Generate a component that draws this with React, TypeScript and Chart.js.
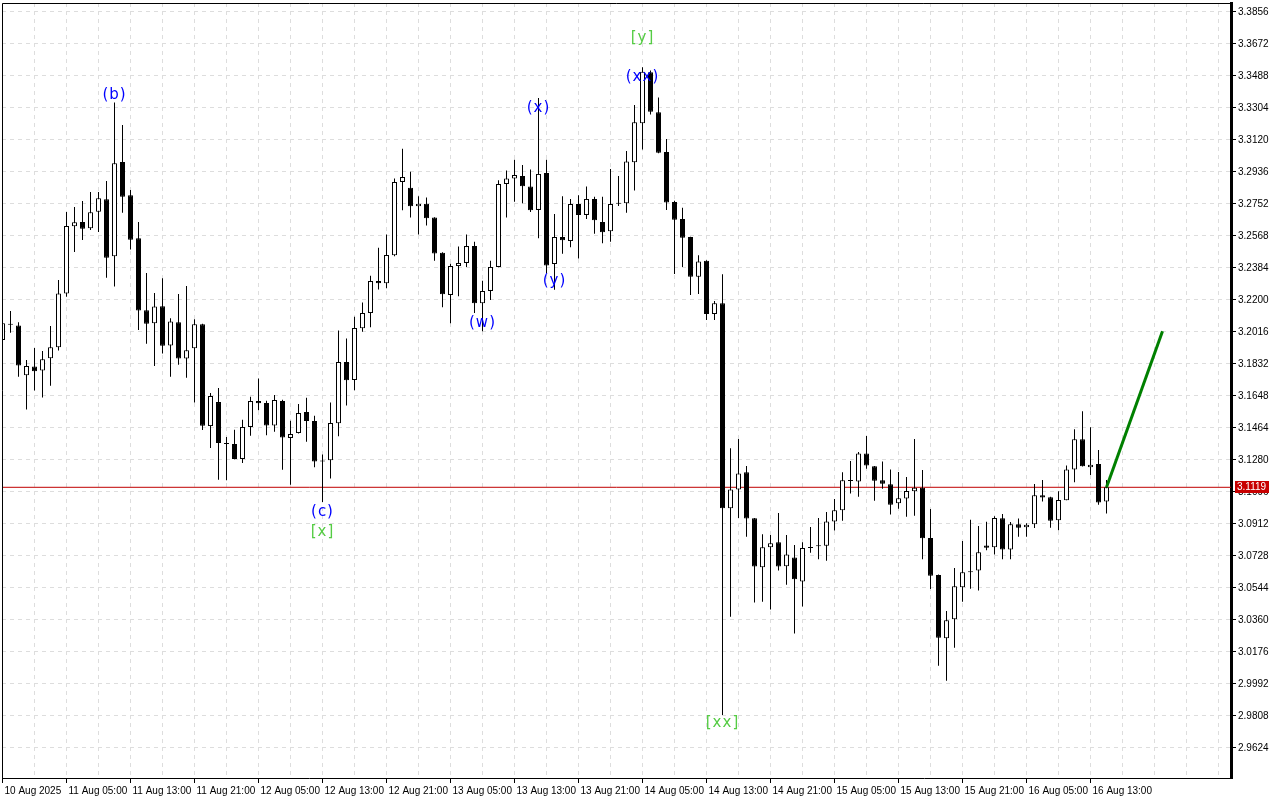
import React, { useEffect, useRef } from "react";
import { Chart, registerables } from "chart.js";

Chart.register(...registerables);

// Hourly candles, 10 Aug 21:00 .. 16 Aug 15:00
const opens: number[] = [
  3.1966, 3.2058, 3.2050, 3.1763, 3.1813, 3.1791, 3.1861, 3.1924, 3.2234, 3.2620,
  3.2645, 3.2608, 3.2704, 3.2775, 3.2447, 3.2990, 3.2798, 3.2551, 3.2137, 3.2062,
  3.2160, 3.1935, 3.2068, 3.1859, 3.1918, 3.2056, 3.1471, 3.1609, 3.1372, 3.1368,
  3.1282, 3.1466, 3.1615, 3.1604, 3.1475, 3.1615, 3.1403, 3.1431, 3.1552, 3.1500,
  3.1270, 3.1274, 3.1487, 3.1839, 3.1736, 3.2033, 3.2121, 3.2305, 3.2292, 3.2453,
  3.2875, 3.2842, 3.2735, 3.2750, 3.2670, 3.2468, 3.2225, 3.2391, 3.2409, 3.2506,
  3.2177, 3.2248, 3.2386, 3.2863, 3.2894, 3.2909, 3.2848, 3.2714, 3.2926, 3.2403,
  3.2558, 3.2535, 3.2748, 3.2685, 3.2777, 3.2645, 3.2591, 3.2752, 3.2752, 3.2988,
  3.3212, 3.3505, 3.3275, 3.3047, 3.2760, 3.2662, 3.2558, 3.2330, 3.2422, 3.2115,
  3.2177, 3.0998, 3.1107, 3.1205, 3.0941, 3.0659, 3.0774, 3.0803, 3.0665, 3.0716,
  3.0578, 3.0772, 3.0782, 3.0783, 3.0923, 3.0987, 3.1157, 3.1153, 3.1314, 3.1240,
  3.1159, 3.1136, 3.1027, 3.1054, 3.1096, 3.1117, 3.0828, 3.0615, 3.0251, 3.0360,
  3.0544, 3.0634, 3.0640, 3.0785, 3.0774, 3.0941, 3.0762, 3.0906, 3.0889, 3.0906,
  3.1073, 3.1062, 3.0929, 3.1044, 3.1222, 3.1395, 3.1234, 3.1253, 3.1038,
];

const highs: number[] = [
  3.2085, 3.2133, 3.2068, 3.1851, 3.1920, 3.1903, 3.2046, 3.2311, 3.2702, 3.2731,
  3.2765, 3.2817, 3.2817, 3.2880, 3.3331, 3.3202, 3.2829, 3.2645, 3.2351, 3.2236,
  3.2321, 3.2091, 3.2230, 3.2277, 3.2085, 3.2060, 3.1661, 3.1690, 3.1408, 3.1450,
  3.1508, 3.1640, 3.1744, 3.1617, 3.1650, 3.1623, 3.1502, 3.1598, 3.1634, 3.1531,
  3.1307, 3.1606, 3.2020, 3.1974, 3.2100, 3.2181, 3.2336, 3.2497, 3.2572, 3.2894,
  3.3066, 3.2934, 3.2792, 3.2786, 3.2672, 3.2470, 3.2405, 3.2503, 3.2572, 3.2531,
  3.2307, 3.2422, 3.2884, 3.2940, 3.3003, 3.2972, 3.2946, 3.3358, 3.3003, 3.2691,
  3.2792, 3.2777, 3.2798, 3.2848, 3.2790, 3.2790, 3.2949, 3.2909, 3.3053, 3.3317,
  3.3534, 3.3515, 3.3361, 3.3122, 3.2766, 3.2727, 3.2560, 3.2453, 3.2424, 3.2190,
  3.2344, 3.1343, 3.1397, 3.1241, 3.0943, 3.0849, 3.0845, 3.0971, 3.0845, 3.0787,
  3.0803, 3.0891, 3.0942, 3.0977, 3.1052, 3.1205, 3.1270, 3.1322, 3.1414, 3.1242,
  3.1268, 3.1222, 3.1207, 3.1178, 3.1397, 3.1219, 3.0994, 3.0617, 3.0408, 3.0655,
  3.0810, 3.0933, 3.0897, 3.0921, 3.0952, 3.0966, 3.0920, 3.0939, 3.0912, 3.1138,
  3.1161, 3.1064, 3.1096, 3.1245, 3.1453, 3.1556, 3.1464, 3.1334, 3.1161,
];

const lows: number[] = [
  3.1940, 3.2008, 3.1755, 3.1567, 3.1675, 3.1636, 3.1703, 3.1905, 3.2215, 3.2472,
  3.2541, 3.2599, 3.2587, 3.2324, 3.2273, 3.2698, 3.2487, 3.2023, 3.1945, 3.1816,
  3.1889, 3.1755, 3.1824, 3.1749, 3.1606, 3.1448, 3.1345, 3.1163, 3.1159, 3.1280,
  3.1259, 3.1416, 3.1562, 3.1418, 3.1439, 3.1220, 3.1134, 3.1429, 3.1381, 3.1234,
  3.1035, 3.1169, 3.1412, 3.1590, 3.1677, 3.2014, 3.2039, 3.2257, 3.2263, 3.2447,
  3.2712, 3.2671, 3.2572, 3.2625, 3.2422, 3.2154, 3.2062, 3.2217, 3.2386, 3.2121,
  3.2016, 3.2196, 3.2384, 3.2671, 3.2761, 3.2752, 3.2702, 3.2551, 3.2351, 3.2255,
  3.2462, 3.2499, 3.2434, 3.2662, 3.2577, 3.2522, 3.2531, 3.2737, 3.2698, 3.2825,
  3.3062, 3.3262, 3.3040, 3.2713, 3.2345, 3.2386, 3.2225, 3.2230, 3.2081, 3.2081,
  2.9810, 3.0375, 3.0942, 3.0835, 3.0456, 3.0461, 3.0417, 3.0640, 3.0559, 3.0279,
  3.0433, 3.0743, 3.0705, 3.0697, 3.0870, 3.0927, 3.1083, 3.1065, 3.1226, 3.1042,
  3.1111, 3.0962, 3.0996, 3.0950, 3.0956, 3.0705, 3.0534, 3.0093, 3.0007, 3.0197,
  3.0461, 3.0536, 3.0525, 3.0757, 3.0732, 3.0705, 3.0705, 3.0835, 3.0835, 3.0885,
  3.1037, 3.0887, 3.0872, 3.1044, 3.1148, 3.1238, 3.1190, 3.1019, 3.0968,
];

const closes: number[] = [
  3.2062, 3.2054, 3.1820, 3.1816, 3.1786, 3.1855, 3.1924, 3.2234, 3.2622, 3.2643,
  3.2606, 3.2700, 3.2781, 3.2439, 3.2982, 3.2790, 3.2543, 3.2135, 3.2060, 3.2158,
  3.1933, 3.2073, 3.1859, 3.1907, 3.2056, 3.1473, 3.1644, 3.1374, 3.1368, 3.1282,
  3.1466, 3.1615, 3.1602, 3.1475, 3.1621, 3.1406, 3.1425, 3.1546, 3.1500, 3.1268,
  3.1267, 3.1489, 3.1839, 3.1734, 3.2035, 3.2121, 3.2305, 3.2292, 3.2455, 3.2875,
  3.2903, 3.2735, 3.2750, 3.2666, 3.2464, 3.2229, 3.2391, 3.2409, 3.2506, 3.2177,
  3.2248, 3.2386, 3.2863, 3.2894, 3.2915, 3.2850, 3.2712, 3.2921, 3.2395, 3.2558,
  3.2539, 3.2748, 3.2685, 3.2777, 3.2654, 3.2585, 3.2748, 3.2749, 3.2993, 3.3218,
  3.3509, 3.3279, 3.3043, 3.2756, 3.2658, 3.2554, 3.2330, 3.2418, 3.2115, 3.2177,
  3.0998, 3.1107, 3.1199, 3.0939, 3.0663, 3.0774, 3.0797, 3.0663, 3.0733, 3.0590,
  3.0770, 3.0770, 3.0780, 3.0923, 3.0987, 3.1159, 3.1155, 3.1314, 3.1244, 3.1157,
  3.1140, 3.1019, 3.1056, 3.1098, 3.1117, 3.0826, 3.0611, 3.0254, 3.0354, 3.0550,
  3.0630, 3.0630, 3.0745, 3.0772, 3.0943, 3.0762, 3.0906, 3.0887, 3.0904, 3.1073,
  3.1060, 3.0927, 3.1046, 3.1222, 3.1395, 3.1240, 3.1249, 3.1031, 3.1119,
];

// one label every 8 candles (candle index = 8 * position)
const xTickLabels: string[] = [
  "10 Aug 2025", "11 Aug 05:00", "11 Aug 13:00", "11 Aug 21:00", "12 Aug 05:00",
  "12 Aug 13:00", "12 Aug 21:00", "13 Aug 05:00", "13 Aug 13:00", "13 Aug 21:00",
  "14 Aug 05:00", "14 Aug 13:00", "14 Aug 21:00", "15 Aug 05:00", "15 Aug 13:00",
  "15 Aug 21:00", "16 Aug 05:00", "16 Aug 13:00",
];

const yTickLabels: string[] = [
  "2.9624", "2.9808", "2.9992", "3.0176", "3.0360", "3.0544", "3.0728", "3.0912",
  "3.1096", "3.1280", "3.1464", "3.1648", "3.1832", "3.2016", "3.2200", "3.2384",
  "3.2568", "3.2752", "3.2936", "3.3120", "3.3304", "3.3488", "3.3672", "3.3856",
];

// Elliott-wave annotations
const waveTexts: string[] = ["(b)", "(c)", "[x]", "(w)", "(x)", "(y)", "(xx)", "[y]", "[xx]"];
const waveIndex: number[] = [14, 40, 40, 60, 67, 69, 80, 80, 90];
const wavePrice: number[] = [3.3376, 3.0977, 3.0862, 3.2064, 3.3301, 3.2306, 3.3479, 3.3704, 2.9763];
const waveKind: string[] = ["minor", "minor", "major", "minor", "minor", "minor", "minor", "major", "major"];

const lastPrice = 3.1119;
const projectionIndex: number[] = [138, 145];
const projectionPrice: number[] = [3.1119, 3.2016];

const X_MIN = -0.0625;
const X_MAX = 153.5625;
const Y_MIN = 2.94475;
const Y_MAX = 3.39037;

const AXIS_FONT = { family: "Liberation Sans", size: 10 };

const decorPlugin = {
  id: "decor",
  afterDatasetsDraw(chart: any) {
    const { ctx } = chart;
    const xs = chart.scales.x;
    const ys = chart.scales.y;
    ctx.save();
    ctx.font = '15px "DejaVu Sans"';
    try { (ctx as any).letterSpacing = "1px"; } catch (e) {}
    ctx.textAlign = "center";
    ctx.textBaseline = "middle";
    waveTexts.forEach((t, i) => {
      ctx.fillStyle = waveKind[i] === "major" ? "#55cc44" : "#0000ff";
      ctx.fillText(t, xs.getPixelForValue(waveIndex[i]), ys.getPixelForValue(wavePrice[i]));
    });
    ctx.restore();
  },
  afterDraw(chart: any) {
    const { ctx, chartArea: a } = chart;
    ctx.save();
    ctx.strokeStyle = "#000";
    ctx.lineWidth = 1;
    ctx.beginPath();
    ctx.moveTo(a.left + 0.5, a.bottom);
    ctx.lineTo(a.left + 0.5, a.top + 0.5);
    ctx.lineTo(a.right, a.top + 0.5);
    ctx.stroke();
    const y = Math.round(chart.scales.y.getPixelForValue(lastPrice));
    ctx.fillStyle = "#c80000";
    ctx.fillRect(a.right + 4, y - 6, 34, 12);
    ctx.fillStyle = "#ffffff";
    ctx.font = '10px "Liberation Sans"';
    ctx.textAlign = "left";
    ctx.textBaseline = "middle";
    ctx.fillText(lastPrice.toFixed(4), a.right + 6, y + 0.5);
    ctx.restore();
  },
};

export default function App() {
  const ref = useRef<HTMLCanvasElement>(null);

  useEffect(() => {
    document.body.style.margin = "0";
    const canvas = ref.current;
    if (!canvas) return;

    const bodies = opens.map((o, i) => ({ x: i, y: [o, closes[i]] }));
    const wicks = lows.map((l, i) => ({ x: i, y: [l, highs[i]] }));
    const bodyColors = opens.map((o, i) => (closes[i] >= o ? "#ffffff" : "#000000"));
    const projection = projectionIndex.map((x, i) => ({ x, y: projectionPrice[i] }));
    const priceLine = [
      { x: X_MIN, y: lastPrice },
      { x: X_MAX, y: lastPrice },
    ];
    const yTickValues = yTickLabels.map((s) => parseFloat(s));

    const chart = new Chart(canvas, {
      type: "bar",
      data: {
        datasets: [
          {
            type: "line",
            data: projection as any,
            borderColor: "#008000",
            borderWidth: 3,
            pointRadius: 0,
            tension: 0,
            order: 0,
          },
          {
            type: "bar",
            data: bodies as any,
            backgroundColor: bodyColors,
            borderColor: "#000000",
            borderWidth: 1,
            borderSkipped: false,
            grouped: false,
            categoryPercentage: 1,
            barPercentage: 0.625,
            minBarLength: 1,
            order: 1,
          } as any,
          {
            type: "bar",
            data: wicks as any,
            backgroundColor: "#000000",
            borderWidth: 0,
            grouped: false,
            categoryPercentage: 1,
            barPercentage: 0.125,
            order: 2,
          } as any,
          {
            type: "line",
            data: priceLine as any,
            borderColor: "#c00000",
            borderWidth: 1,
            pointRadius: 0,
            order: 3,
          },
        ],
      },
      options: {
        responsive: false,
        devicePixelRatio: 1,
        animation: false,
        events: [],
        layout: { padding: { top: 3, left: 2, right: 0, bottom: 0 } },
        plugins: { legend: { display: false }, tooltip: { enabled: false } },
        scales: {
          x: {
            type: "linear",
            min: X_MIN,
            max: X_MAX,
            offset: false,
            afterBuildTicks: (scale: any) => {
              const t = [];
              for (let i = 0; i <= 152; i += 4) t.push({ value: i });
              scale.ticks = t;
            },
            afterFit: (scale: any) => {
              scale.height = 22;
              scale.paddingLeft = 0;
              scale.paddingRight = 0;
              scale.paddingTop = 0;
              scale.paddingBottom = 0;
            },
            grid: {
              offset: false,
              color: "#dddddd",
              tickLength: 5,
              tickBorderDash: [],
              tickColor: (c: any) =>
                c.tick && c.tick.value % 8 === 0 && c.tick.value / 8 < xTickLabels.length
                  ? "#000000"
                  : "rgba(0,0,0,0)",
            } as any,
            border: { display: true, color: "#000000", width: 1, dash: [4, 4] },
            ticks: {
              autoSkip: false,
              maxRotation: 0,
              minRotation: 0,
              align: "start",
              padding: 2,
              labelOffset: 2,
              color: "#000000",
              font: AXIS_FONT,
              callback: (v: any) => {
                const n = Number(v);
                return n % 8 === 0 && n / 8 < xTickLabels.length ? xTickLabels[n / 8] : "";
              },
            },
          },
          y: {
            type: "linear",
            position: "right",
            min: Y_MIN,
            max: Y_MAX,
            afterBuildTicks: (scale: any) => {
              scale.ticks = yTickValues.map((v) => ({ value: v }));
            },
            afterFit: (scale: any) => {
              scale.width = 49;
              scale.paddingTop = 0;
              scale.paddingBottom = 0;
              scale.paddingLeft = 0;
              scale.paddingRight = 0;
            },
            grid: {
              color: "#dddddd",
              tickLength: 5,
              tickBorderDash: [],
              tickColor: "#000000",
            } as any,
            border: { display: true, color: "#000000", width: 3, dash: [4, 4] },
            ticks: {
              autoSkip: false,
              padding: 2,
              labelOffset: 1,
              color: "#000000",
              font: AXIS_FONT,
              callback: (v: any) => Number(v).toFixed(4),
            },
          },
        },
      },
      plugins: [decorPlugin],
    });

    return () => chart.destroy();
  }, []);

  return <canvas ref={ref} width={1280} height={800} style={{ display: "block" }} />;
}
